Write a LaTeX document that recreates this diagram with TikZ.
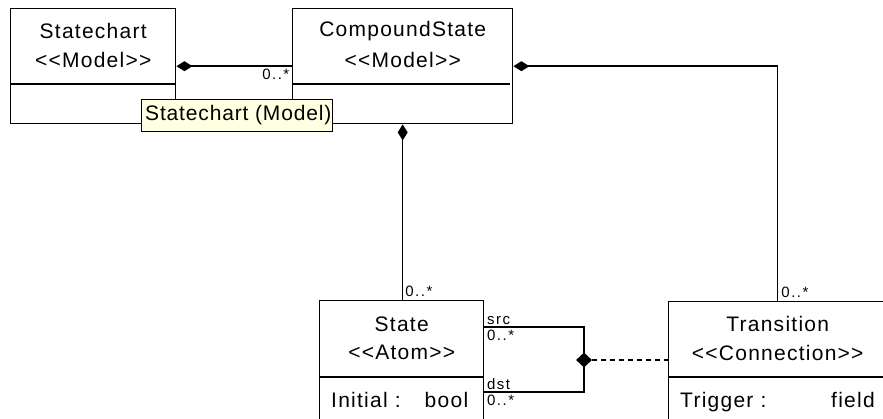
\documentclass[tikz,border=0pt]{standalone}
\usepackage{fontspec}
\setmainfont{Liberation Sans}
\usetikzlibrary{calc,arrows.meta,shapes.geometric}
\definecolor{tipfill}{HTML}{FFFFE1}
\begin{document}
\begin{tikzpicture}[x=1pt,y=-1pt,
  umlbox/.style={draw, line width=1.4pt, anchor=north west, inner sep=0pt},
  title/.style={font=\fontsize{21}{24}\selectfont\addfontfeature{LetterSpace=6}, inner sep=0pt},
  attr/.style={font=\fontsize{21}{24}\selectfont\addfontfeature{LetterSpace=6}, inner sep=0pt},
  mult/.style={font=\fontsize{15}{17}\selectfont\addfontfeature{LetterSpace=10}, inner sep=1.5pt},
  assoc/.style={line width=1.5pt},
  comp/.style={{Diamond[length=16pt,width=10pt]}-, line width=1.5pt},
  sep/.style={line width=1.4pt},
]
\fill[white] (0,0) rectangle (883,418);
\useasboundingbox (0,0) rectangle (883,418);
\clip (0,0) rectangle (883,418);

% class boxes
\node[umlbox, minimum width=165pt, minimum height=115pt] (sc) at (10,8) {};
\node[umlbox, minimum width=220pt, minimum height=115pt] (cs) at (292,8) {};
\node[umlbox, minimum width=164pt, minimum height=130pt] (st) at (319,300) {};
\node[umlbox, minimum width=218pt, minimum height=120pt] (tr) at (668,301) {};

% compartment separators
\draw[sep] ($(sc.north west)+(0,76)$) -- ($(sc.north east)+(0,76)$);
\draw[sep] ($(cs.north west)+(0,76)$) -- ($(cs.north east)+(-3,76)$);
\draw[sep] ($(st.north west)+(0,77)$) -- ($(st.north east)+(0,77)$);
\draw[sep] ($(tr.north west)+(0,76)$) -- ($(tr.north east)+(0,76)$);

% class names and stereotypes
\node[title] (scname) at ($(sc.north)+(0,23)$) {Statechart};
\node[title] (scst)   at ($(sc.north)+(0,52)$) {<{}<Model>{}>};
\node[title] (csname) at ($(cs.north)+(0,23)$) {CompoundState};
\node[title] (csst)   at ($(cs.north)+(0,52)$) {<{}<Model>{}>};
\node[title] (stname) at ($(st.north)+(0,24)$) {State};
\node[title] (stst)   at ($(st.north)+(0,52)$) {<{}<Atom>{}>};
\node[title] (trname) at ($(tr.north)+(0,23)$) {Transition};
\node[title] (trst)   at ($(tr.north)+(0,52)$) {<{}<Connection>{}>};

% attributes
\node[attr, anchor=base west] (stattr) at ($(st.north west)+(12,107)$) {Initial :};
\node[attr, anchor=base east] (sttype) at ($(st.north east)+(-16,107)$) {bool};
\node[attr, anchor=base west] (trattr) at ($(tr.north west)+(12,106)$) {Trigger :};
\node[attr, anchor=base east] (trtype) at ($(tr.north west)+(207,106)$) {field};

% composition associations
\draw[comp] (sc.east) -- (cs.west);
\draw[comp] (cs.east) -| (tr.north);
\draw[comp] (cs.south) -- (cs.south |- st.north);

% src / dst roles of the connection
\coordinate (j) at (584,360);
\draw[assoc] ($(st.north east)+(0,27)$) coordinate (srcend) -| (j)
             |- ($(st.north east)+(0,92)$) coordinate (dstend);
\node[diamond, fill=black, inner sep=0pt, minimum width=16pt, minimum height=15pt] (jd) at (j) {};
\draw[assoc, dash pattern=on 5pt off 4pt] (jd.east) -- (tr.west |- jd.east);

% multiplicities and role names
\node[mult, anchor=north east] (m1) at ($(cs.west)+(-1,1)$) {0..*};
\node[mult, anchor=south west] (m2) at ($(st.north)+(2,-2)$) {0..*};
\node[mult, anchor=south west] (m3) at ($(tr.north)+(2,-2)$) {0..*};
\node[mult, anchor=south west] (r1) at ($(srcend)+(1,-1)$) {src};
\node[mult, anchor=north west] (m4) at ($(srcend)+(1,1)$) {0..*};
\node[mult, anchor=south west] (r2) at ($(dstend)+(1,-1)$) {dst};
\node[mult, anchor=north west] (m5) at ($(dstend)+(1,1)$) {0..*};

% tooltip
\node[draw, line width=0.9pt, fill=tipfill, anchor=north west, inner sep=0pt,
      minimum width=191pt, minimum height=32pt] (tip) at (141,99) {};
\node[anchor=west, inner sep=0pt, font=\fontsize{21}{24}\selectfont\addfontfeature{LetterSpace=4}] (tiptext)
      at ($(tip.west)+(4,0)$) {Statechart (Model)};
\end{tikzpicture}
\end{document}
